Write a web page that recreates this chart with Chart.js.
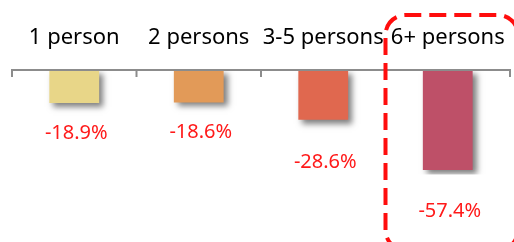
<!DOCTYPE html>
<html>
<head>
<meta charset="utf-8">
<script src="https://cdn.jsdelivr.net/npm/chart.js@4.4.1/dist/chart.umd.min.js"></script>
<style>
  html, body { margin: 0; padding: 0; background: #ffffff; }
  #wrap { width: 514px; height: 242px; position: relative; }
</style>
</head>
<body>
<div id="wrap"><canvas id="c" width="514" height="242"></canvas></div>
<script>
// ---- data ----
const categories = ["1 person", "2 persons", "3-5 persons", "6+ persons"];
const changePct = [-18.9, -18.6, -28.6, -57.4];
const valueLabels = ["-18.9%", "-18.6%", "-28.6%", "-57.4%"];

// ---- styles ----
const barColors = ["#e8d688", "#e29a58", "#e0684f", "#be5068"];
const labelOffsets = [30, 30, 42, 41]; // gap below bar end (px), as placed in source
const highlightIndex = 3;

const shadowPlugin = {
  id: 'barShadow',
  beforeDatasetsDraw(chart) {
    const ctx = chart.ctx;
    ctx.save();
    ctx.shadowColor = 'rgba(0,0,0,0.5)';
    ctx.shadowBlur = 6;
    ctx.shadowOffsetX = 4;
    ctx.shadowOffsetY = 4;
  },
  afterDatasetsDraw(chart) {
    chart.ctx.restore();
  }
};

const axisPlugin = {
  id: 'axisAndLabels',
  afterDatasetsDraw(chart) {
    const ctx = chart.ctx;
    const x = chart.scales.x, y = chart.scales.y;
    const y0 = y.getPixelForValue(0);
    const n = categories.length;
    const step = n > 1 ? x.getPixelForValue(1) - x.getPixelForValue(0) : x.width;
    ctx.save();
    // axis line
    ctx.strokeStyle = '#8c8c8c';
    ctx.lineWidth = 2;
    ctx.beginPath();
    ctx.moveTo(x.getPixelForValue(0) - step / 2, y0);
    ctx.lineTo(x.getPixelForValue(n - 1) + step / 2, y0);
    ctx.stroke();
    // tick marks at category boundaries
    for (let i = 0; i <= n; i++) {
      const px = x.getPixelForValue(0) - step / 2 + i * step;
      ctx.beginPath();
      ctx.moveTo(px, y0 - 1);
      ctx.lineTo(px, y0 + 7);
      ctx.stroke();
    }
    // value labels
    ctx.fillStyle = '#ff1a1a';
    ctx.font = '20px "Noto Sans"';
    ctx.textAlign = 'center';
    ctx.textBaseline = 'middle';
    const meta = chart.getDatasetMeta(0);
    meta.data.forEach((bar, i) => {
      ctx.fillText(valueLabels[i], bar.x + 2, bar.y + labelOffsets[i]);
    });
    // highlight box (dashed rounded rect)
    const left = x.getPixelForValue(highlightIndex) - step / 2;
    const top = 15, right = left + step + 8, bottom = chart.height + 8, r = 20;
    ctx.strokeStyle = '#ff0d0d';
    ctx.lineWidth = 4;
    ctx.setLineDash([17, 8]);
    ctx.beginPath();
    ctx.moveTo(left, bottom - r);
    ctx.lineTo(left, top + r);
    ctx.arcTo(left, top, left + r, top, r);
    ctx.lineTo(right - r, top);
    ctx.arcTo(right, top, right, top + r, r);
    ctx.lineTo(right, bottom - r);
    ctx.arcTo(right, bottom, right - r, bottom, r);
    ctx.lineTo(left + r, bottom);
    ctx.arcTo(left, bottom, left, bottom - r, r);
    ctx.stroke();
    ctx.restore();
  }
};

new Chart(document.getElementById('c'), {
  type: 'bar',
  data: {
    labels: categories,
    datasets: [{
      data: changePct,
      backgroundColor: barColors,
      borderWidth: 0,
      barPercentage: 0.8,
      categoryPercentage: 0.5
    }]
  },
  options: {
    responsive: false,
    animation: false,
    layout: { padding: { left: 12, right: 4, top: 22.6, bottom: 67.5 } },
    plugins: { legend: { display: false }, tooltip: { enabled: false } },
    scales: {
      x: {
        position: 'top',
        offset: true,
        grid: { display: false },
        border: { display: false },
        ticks: {
          color: '#000000',
          font: { family: '"Noto Sans"', size: 22 },
          padding: 11,
          maxRotation: 0,
          autoSkip: false
        },
        afterFit(scale) {
          scale.height = 47.4;
          scale.paddingLeft = 0;
          scale.paddingRight = 0;
          scale.paddingTop = 0;
          scale.paddingBottom = 0;
        }
      },
      y: {
        display: false,
        min: -60,
        max: 0
      }
    }
  },
  plugins: [shadowPlugin, axisPlugin]
});
</script>
</body>
</html>
